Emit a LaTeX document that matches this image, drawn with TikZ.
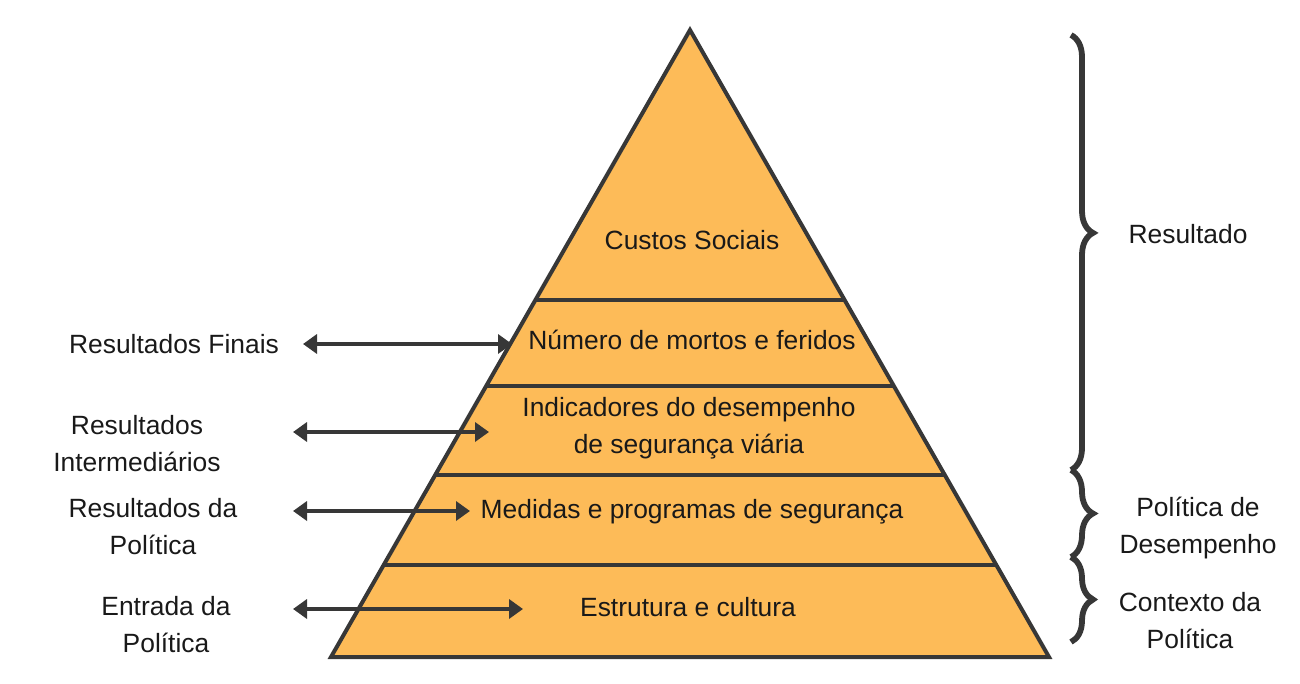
\documentclass[tikz,border=0pt]{standalone}
\usepackage{fontspec}
\setmainfont{Liberation Sans}
\usetikzlibrary{arrows.meta,decorations.pathreplacing}
\definecolor{pyr}{RGB}{253,187,88}
\definecolor{ink}{RGB}{55,55,55}
\definecolor{txt}{RGB}{25,25,25}
\begin{document}
\begin{tikzpicture}[x=0.5pt,y=-0.5pt,
  lbl/.style={font=\fontsize{13.2}{18.5}\selectfont, align=center, text=txt, inner sep=0pt},
  dbl/.style={{Triangle[length=7pt,width=9.5pt]}-{Triangle[length=7pt,width=9.5pt]}, line width=2pt, draw=ink},
  brc/.style={decorate, decoration={brace, amplitude=11pt, #1}, line width=2.9pt, draw=ink},
  edge/.style={draw=ink, line width=2pt}]
\useasboundingbox (0,0) rectangle (1300,684);
% pyramid
\coordinate (apex) at (690,30);
\coordinate (bl) at (331,657);
\coordinate (br) at (1049,657);
\fill[pyr] (apex) -- (br) -- (bl) -- cycle;
\coordinate (d1l) at (535.4,300); \coordinate (d1r) at (844.6,300);
\coordinate (d2l) at (486.2,386); \coordinate (d2r) at (893.8,386);
\coordinate (d3l) at (435.2,475); \coordinate (d3r) at (944.8,475);
\coordinate (d4l) at (383.7,565); \coordinate (d4r) at (996.3,565);
\draw[edge] (d1l) -- (d1r);
\draw[edge] (d2l) -- (d2r);
\draw[edge] (d3l) -- (d3r);
\draw[edge] (d4l) -- (d4r);
\draw[edge, line join=miter] (apex) -- (br) -- (bl) -- cycle;
% level texts
\node[lbl] (custos) at (692,240) {Custos Sociais};
\node[lbl] (mortos) at (692,340) {Número de mortos e feridos};
\node[lbl] (indic) at (689,428) {Indicadores do desempenho\\de segurança viária};
\node[lbl] (medidas) at (692,512) {Medidas e programas de segurança};
\node[lbl] (estrut) at (688,607) {Estrutura e cultura};
% left labels
\node[lbl] (finais) at (174,344) {Resultados Finais};
\node[lbl] (interm) at (137,444) {Resultados\\Intermediários};
\node[lbl] (polit) at (153,527) {Resultados da\\Política};
\node[lbl] (entrada) at (166,625) {Entrada da\\Política};
% arrows
\coordinate (a1s) at (303,344); \coordinate (a1e) at (512,344);
\coordinate (a2s) at (293,432); \coordinate (a2e) at (489,432);
\coordinate (a3s) at (293,511); \coordinate (a3e) at (470,511);
\coordinate (a4s) at (293,609); \coordinate (a4e) at (523,609);
\draw[dbl] (a1s) -- (a1e);
\draw[dbl] (a2s) -- (a2e);
\draw[dbl] (a3s) -- (a3e);
\draw[dbl] (a4s) -- (a4e);
% braces
\coordinate (b1t) at (1071,35); \coordinate (b1b) at (1071,470);
\coordinate (b2b) at (1071,557);
\coordinate (b3b) at (1071,642);
\draw[brc={aspect=0.455}] (b1t) -- (b1b);
\draw[brc={aspect=0.5}] (b1b) -- (b2b);
\draw[brc={aspect=0.5}] (b2b) -- (b3b);
% right labels
\node[lbl] (result) at (1188,234) {Resultado};
\node[lbl] (desemp) at (1198,528) {Política de\\Desempenho};
\node[lbl] (contexto) at (1190,621) {Contexto da\\Política};
\end{tikzpicture}
\end{document}
